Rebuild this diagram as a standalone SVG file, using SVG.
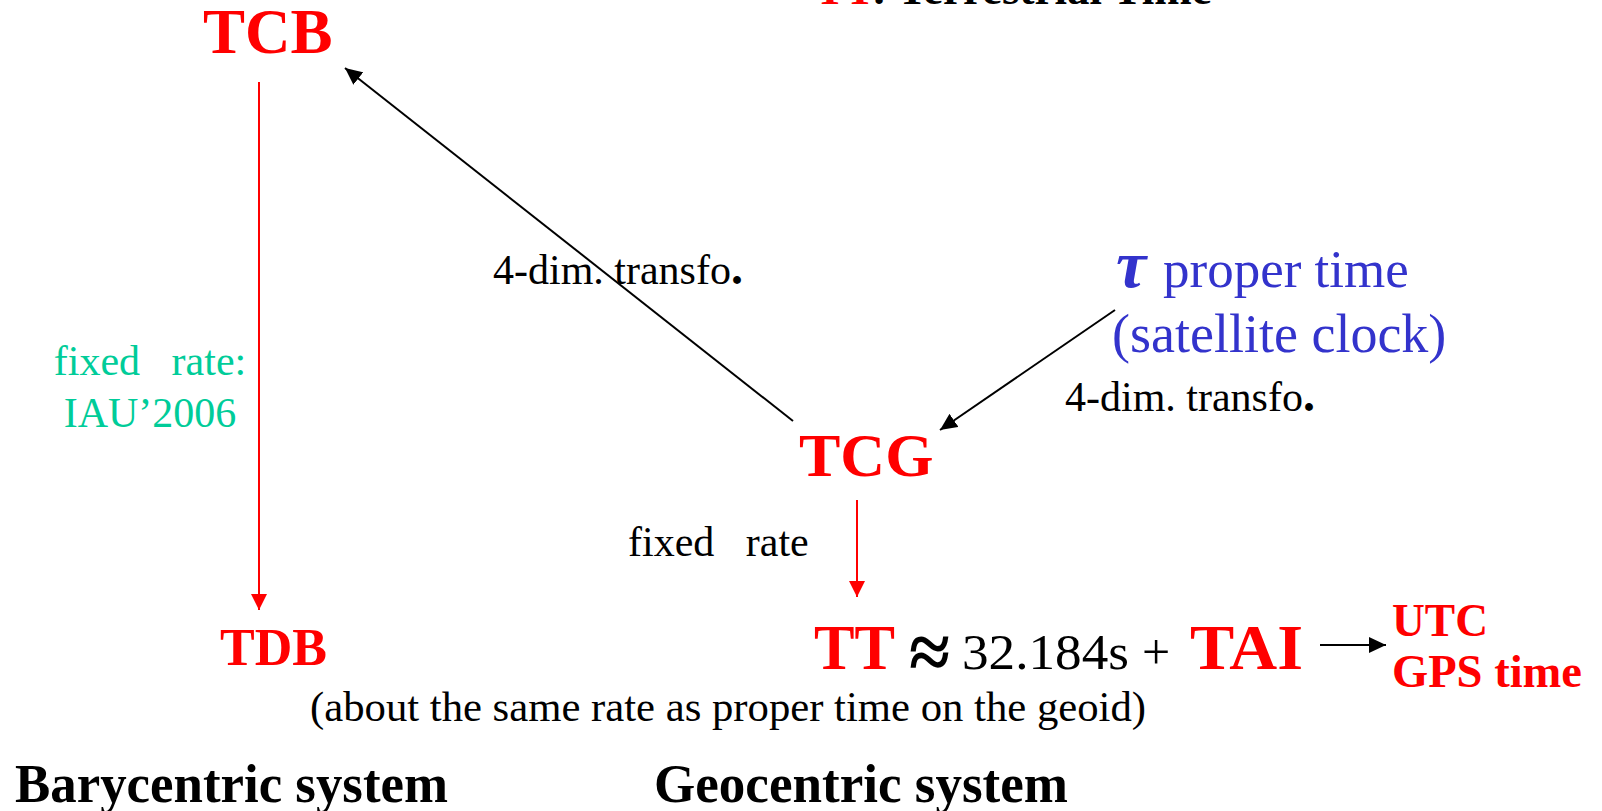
<svg xmlns="http://www.w3.org/2000/svg" width="1602" height="811" viewBox="0 0 1602 811">
<style>
text{font-family:"Liberation Serif","Times New Roman",serif;white-space:pre}
.red{fill:#FF0000;font-weight:bold}
.blk{fill:#000000}
.grn{fill:#00CC99}
.blu{fill:#3333CC}
.bold{font-weight:bold}
.lnr{stroke:#FF0000;stroke-width:2;fill:none}
.lnk{stroke:#000000;stroke-width:2;fill:none}
</style>
<defs>
<marker id="ahR" viewBox="0 0 16 16" refX="16" refY="8" markerWidth="16" markerHeight="16" markerUnits="userSpaceOnUse" orient="auto"><path d="M0,0 L16,8 L0,16 z" fill="#FF0000"/></marker>
<marker id="ahK" viewBox="0 0 17 16" refX="17" refY="8" markerWidth="17" markerHeight="16" markerUnits="userSpaceOnUse" orient="auto"><path d="M0,0 L17,8 L0,16 z" fill="#000000"/></marker>
</defs>
<rect width="1602" height="811" fill="#FFFFFF"/>
<g id="connectors">
<line class="lnr" x1="259" y1="82" x2="259" y2="610" marker-end="url(#ahR)"/>
<line class="lnk" x1="793" y1="421" x2="345" y2="68" marker-end="url(#ahK)"/>
<line class="lnk" x1="1115" y1="310" x2="940" y2="430" marker-end="url(#ahK)"/>
<line class="lnr" x1="857" y1="500" x2="857" y2="597" marker-end="url(#ahR)"/>
<line class="lnk" x1="1320" y1="645" x2="1386" y2="645" marker-end="url(#ahK)"/>
</g>
<g id="title-tt">
<text x="815" y="4" font-size="45" class="bold"><tspan fill="#FF0000">TT</tspan><tspan fill="#000000">: Terrestrial Time</tspan></text>
</g>
<g id="node-tcb">
<text x="203" y="53" font-size="63" class="red">TCB</text>
</g>
<g id="node-tdb">
<text x="220" y="665" font-size="52" class="red">TDB</text>
</g>
<g id="label-fixed-rate-iau">
<text x="150" y="375" font-size="42" class="grn" text-anchor="middle">fixed   rate:</text>
<text x="150" y="427" font-size="42" class="grn" text-anchor="middle">IAU’2006</text>
</g>
<g id="label-4dim-1">
<text x="493" y="284" font-size="42" class="blk">4-dim. transfo<tspan font-weight="bold" font-size="48">.</tspan></text>
</g>
<g id="node-tau">
<text x="1116" y="287" font-size="68" class="blu" font-weight="bold" font-style="italic">τ</text>
<text x="1163" y="287" font-size="53" class="blu">proper time</text>
<text x="1112" y="352" font-size="54" class="blu">(satellite clock)</text>
</g>
<g id="label-4dim-2">
<text x="1065" y="411" font-size="42" class="blk">4-dim. transfo<tspan font-weight="bold" font-size="48">.</tspan></text>
</g>
<g id="node-tcg">
<text x="799" y="476" font-size="62" class="red">TCG</text>
</g>
<g id="label-fixed-rate">
<text x="628" y="556" font-size="42" class="blk">fixed   rate</text>
</g>
<g id="node-tt">
<text x="814" y="669" font-size="63" class="red" textLength="81" lengthAdjust="spacingAndGlyphs">TT</text>
<text x="909" y="679" font-size="80" class="blk bold" textLength="41" lengthAdjust="spacingAndGlyphs">≈</text>
<text x="962" y="669" font-size="50" class="blk" textLength="167" lengthAdjust="spacingAndGlyphs">32.184s</text>
<text x="1142" y="669" font-size="50" class="blk">+</text>
</g>
<g id="node-tai">
<text x="1190" y="669" font-size="64" class="red" textLength="113" lengthAdjust="spacingAndGlyphs">TAI</text>
</g>
<g id="node-utc-gps">
<text x="1392" y="636" font-size="47" class="red" textLength="96" lengthAdjust="spacingAndGlyphs">UTC</text>
<text x="1392" y="687" font-size="47" class="red" textLength="190" lengthAdjust="spacingAndGlyphs">GPS time</text>
</g>
<g id="label-geoid">
<text x="310" y="721" font-size="43" class="blk" textLength="836" lengthAdjust="spacingAndGlyphs">(about the same rate as proper time on the geoid)</text>
</g>
<g id="label-barycentric">
<text x="15" y="802" font-size="54" class="blk bold" textLength="433" lengthAdjust="spacingAndGlyphs">Barycentric system</text>
</g>
<g id="label-geocentric">
<text x="654" y="802" font-size="54" class="blk bold" textLength="414" lengthAdjust="spacingAndGlyphs">Geocentric system</text>
</g>
</svg>
